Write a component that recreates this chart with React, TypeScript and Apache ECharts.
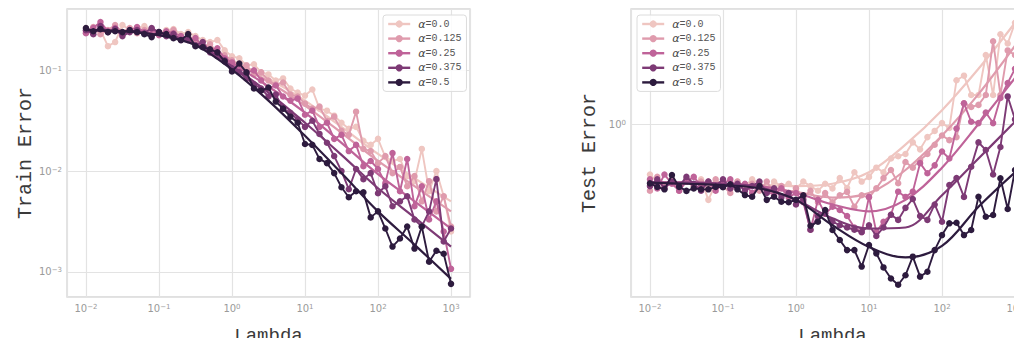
import React, { useEffect, useRef } from "react";
import * as echarts from "echarts";

const LAMBDA = [0.01, 0.0126, 0.0158, 0.02, 0.0251, 0.0316, 0.0398, 0.0501, 0.0631, 0.0794, 0.1, 0.126, 0.158, 0.2, 0.251, 0.316, 0.398, 0.501, 0.631, 0.794, 1, 1.26, 1.58, 2, 2.51, 3.16, 3.98, 5.01, 6.31, 7.94, 10, 12.6, 15.8, 20, 25.1, 31.6, 39.8, 50.1, 63.1, 79.4, 100, 126, 158, 200, 251, 316, 398, 501, 631, 794, 1000];
const FIT_LAMBDA = [0.01, 0.0316, 0.1, 0.316, 1, 3.16, 10, 31.6, 100, 316, 1000];
const ALPHA_LABELS = ["α=0.0", "α=0.125", "α=0.25", "α=0.375", "α=0.5"];
const COLORS = ["#efc6c1", "#df9bad", "#bf6399", "#7d3a75", "#2d1b3e"];

const TRAIN_A0 = [0.263, 0.240, 0.251, 0.174, 0.191, 0.282, 0.251, 0.263, 0.275, 0.245, 0.234, 0.251, 0.257, 0.229, 0.240, 0.219, 0.200, 0.191, 0.200, 0.158, 0.138, 0.132, 0.112, 0.115, 0.0955, 0.0912, 0.0794, 0.0832, 0.0661, 0.0603, 0.0562, 0.0646, 0.0417, 0.0398, 0.0355, 0.0302, 0.0263, 0.0275, 0.0200, 0.0182, 0.0209, 0.0138, 0.0126, 0.0132, 0.00891, 0.00794, 0.0166, 0.00631, 0.0100, 0.00562, 0.00251];
const TRAIN_A1 = [0.240, 0.269, 0.229, 0.251, 0.282, 0.240, 0.263, 0.234, 0.251, 0.219, 0.240, 0.224, 0.251, 0.209, 0.219, 0.200, 0.174, 0.182, 0.151, 0.141, 0.126, 0.110, 0.112, 0.0912, 0.0955, 0.0794, 0.0724, 0.0759, 0.0575, 0.0550, 0.0468, 0.0417, 0.0437, 0.0316, 0.0347, 0.0251, 0.0229, 0.0389, 0.0166, 0.0158, 0.0120, 0.0141, 0.00955, 0.0110, 0.00708, 0.00891, 0.00501, 0.00794, 0.00398, 0.00562, 0.00282];
const TRAIN_A2 = [0.234, 0.263, 0.302, 0.245, 0.263, 0.229, 0.251, 0.269, 0.240, 0.257, 0.224, 0.245, 0.234, 0.219, 0.200, 0.209, 0.174, 0.158, 0.166, 0.132, 0.120, 0.107, 0.0955, 0.100, 0.0794, 0.0661, 0.0708, 0.0550, 0.0501, 0.0525, 0.0363, 0.0398, 0.0275, 0.0302, 0.0209, 0.0229, 0.0158, 0.0182, 0.0112, 0.0126, 0.0105, 0.00759, 0.0151, 0.00631, 0.0132, 0.00447, 0.00708, 0.00331, 0.00501, 0.00251, 0.00107];
const TRAIN_A3 = [0.251, 0.229, 0.275, 0.240, 0.257, 0.219, 0.240, 0.251, 0.234, 0.263, 0.240, 0.219, 0.229, 0.200, 0.209, 0.178, 0.191, 0.151, 0.138, 0.126, 0.105, 0.0955, 0.0832, 0.0724, 0.0661, 0.0550, 0.0575, 0.0417, 0.0380, 0.0324, 0.0275, 0.0316, 0.0234, 0.0191, 0.0141, 0.0100, 0.00661, 0.0105, 0.00832, 0.00955, 0.00603, 0.00708, 0.00447, 0.00501, 0.00562, 0.00331, 0.00282, 0.00398, 0.00832, 0.00200, 0.00269];
const TRAIN_A4 = [0.263, 0.245, 0.257, 0.240, 0.245, 0.240, 0.251, 0.240, 0.229, 0.214, 0.240, 0.229, 0.209, 0.200, 0.229, 0.174, 0.170, 0.162, 0.151, 0.123, 0.0977, 0.117, 0.0955, 0.0661, 0.0631, 0.0676, 0.0490, 0.0417, 0.0347, 0.0302, 0.0186, 0.0182, 0.0132, 0.0120, 0.00955, 0.00692, 0.00550, 0.00631, 0.00617, 0.00347, 0.00398, 0.00269, 0.00178, 0.00214, 0.00282, 0.00170, 0.00282, 0.00126, 0.00162, 0.00151, 0.000759];

const TRAIN_FIT_A0 = [0.251, 0.245, 0.229, 0.191, 0.126, 0.0832, 0.0501, 0.0275, 0.0148, 0.00851, 0.00501];
const TRAIN_FIT_A1 = [0.251, 0.245, 0.229, 0.191, 0.123, 0.0776, 0.0447, 0.0240, 0.0126, 0.00708, 0.00398];
const TRAIN_FIT_A2 = [0.251, 0.245, 0.229, 0.186, 0.117, 0.0692, 0.0380, 0.0191, 0.00933, 0.00501, 0.00269];
const TRAIN_FIT_A3 = [0.251, 0.245, 0.224, 0.182, 0.110, 0.0603, 0.0302, 0.0145, 0.00676, 0.00347, 0.00178];
const TRAIN_FIT_A4 = [0.251, 0.245, 0.224, 0.178, 0.102, 0.0501, 0.0224, 0.00955, 0.00398, 0.00186, 0.000851];

const TEST_A0 = [0.603, 0.562, 0.537, 0.575, 0.525, 0.562, 0.537, 0.575, 0.468, 0.550, 0.562, 0.525, 0.562, 0.537, 0.575, 0.550, 0.513, 0.562, 0.537, 0.550, 0.525, 0.562, 0.537, 0.513, 0.550, 0.525, 0.582, 0.527, 0.617, 0.562, 0.589, 0.646, 0.617, 0.708, 0.724, 0.741, 0.832, 0.776, 0.877, 0.933, 1.009, 0.962, 1.549, 1.622, 1.337, 1.337, 1.995, 1.337, 2.455, 2.239, 2.754];
const TEST_A1 = [0.513, 0.589, 0.537, 0.562, 0.513, 0.575, 0.537, 0.562, 0.525, 0.575, 0.537, 0.501, 0.562, 0.525, 0.550, 0.513, 0.562, 0.501, 0.537, 0.490, 0.525, 0.479, 0.513, 0.457, 0.501, 0.457, 0.490, 0.507, 0.437, 0.490, 0.479, 0.525, 0.582, 0.631, 0.553, 0.684, 0.646, 0.697, 0.741, 0.813, 0.891, 0.851, 0.877, 1.230, 1.186, 1.211, 1.337, 2.291, 1.337, 2.089, 1.995];
const TEST_A2 = [0.575, 0.525, 0.603, 0.550, 0.513, 0.562, 0.589, 0.537, 0.562, 0.513, 0.550, 0.575, 0.525, 0.550, 0.501, 0.537, 0.513, 0.490, 0.525, 0.479, 0.501, 0.457, 0.347, 0.468, 0.407, 0.437, 0.423, 0.398, 0.355, 0.339, 0.482, 0.339, 0.376, 0.403, 0.508, 0.482, 0.508, 0.676, 0.611, 0.661, 0.759, 0.708, 0.955, 1.230, 1.023, 1.009, 1.122, 1.009, 1.297, 1.507, 1.738];
const TEST_A3 = [0.537, 0.575, 0.525, 0.562, 0.537, 0.589, 0.550, 0.513, 0.562, 0.537, 0.575, 0.525, 0.550, 0.513, 0.537, 0.562, 0.501, 0.525, 0.479, 0.501, 0.447, 0.468, 0.347, 0.398, 0.410, 0.376, 0.363, 0.355, 0.347, 0.339, 0.363, 0.326, 0.355, 0.403, 0.383, 0.432, 0.472, 0.398, 0.383, 0.447, 0.376, 0.543, 0.582, 0.482, 0.652, 0.832, 0.771, 0.603, 0.794, 1.318, 1.047];
const TEST_A4 = [0.552, 0.533, 0.520, 0.600, 0.533, 0.512, 0.525, 0.520, 0.520, 0.533, 0.531, 0.547, 0.520, 0.491, 0.483, 0.537, 0.468, 0.483, 0.459, 0.457, 0.468, 0.490, 0.361, 0.376, 0.423, 0.346, 0.313, 0.283, 0.283, 0.240, 0.298, 0.274, 0.238, 0.213, 0.200, 0.220, 0.265, 0.217, 0.228, 0.283, 0.329, 0.370, 0.372, 0.329, 0.346, 0.483, 0.395, 0.402, 0.581, 0.427, 0.631];

const TEST_FIT_A0 = [0.556, 0.556, 0.550, 0.543, 0.537, 0.550, 0.617, 0.813, 1.148, 1.738, 2.754];
const TEST_FIT_A1 = [0.556, 0.556, 0.550, 0.537, 0.507, 0.479, 0.501, 0.631, 0.891, 1.349, 2.188];
const TEST_FIT_A2 = [0.556, 0.556, 0.550, 0.537, 0.501, 0.447, 0.417, 0.468, 0.646, 1.0, 1.585];
const TEST_FIT_A3 = [0.556, 0.556, 0.550, 0.531, 0.468, 0.389, 0.351, 0.355, 0.490, 0.708, 1.023];
const TEST_FIT_A4 = [0.556, 0.550, 0.543, 0.525, 0.468, 0.363, 0.292, 0.263, 0.295, 0.437, 0.617];

const TRAIN = [TRAIN_A0, TRAIN_A1, TRAIN_A2, TRAIN_A3, TRAIN_A4];
const TRAIN_FIT = [TRAIN_FIT_A0, TRAIN_FIT_A1, TRAIN_FIT_A2, TRAIN_FIT_A3, TRAIN_FIT_A4];
const TEST = [TEST_A0, TEST_A1, TEST_A2, TEST_A3, TEST_A4];
const TEST_FIT = [TEST_FIT_A0, TEST_FIT_A1, TEST_FIT_A2, TEST_FIT_A3, TEST_FIT_A4];

const pairs = (xs: number[], ys: number[]) => xs.map((x, i) => [x, ys[i]]);

const tickFmt = (v: number) => {
  const l = Math.log10(v);
  const e = Math.round(l);
  if (Math.abs(l - e) > 1e-3) return "";
  return "10{s|" + (e < 0 ? "\u2212" + -e : String(e)) + "}";
};

const GRID_C = "#e3e3e3";
const LABEL_STYLE = {
  formatter: tickFmt,
  color: "#9a9a9a",
  fontFamily: "DejaVu Sans",
  fontSize: 10,
  rich: { s: { fontSize: 7, verticalAlign: "top", color: "#9a9a9a", fontFamily: "DejaVu Sans" } },
};

function xAxisCfg(idx: number) {
  return {
    type: "log",
    logBase: 10,
    gridIndex: idx,
    min: 0.0055,
    max: 1820,
    name: "Lambda",
    nameLocation: "middle",
    nameGap: 29,
    nameMoveOverlap: false,
    nameTextStyle: { fontFamily: "Liberation Mono", fontSize: 19, lineHeight: 19, color: "#3a3a3a" },
    axisLine: { show: false },
    axisTick: { show: false },
    splitLine: { show: true, lineStyle: { color: GRID_C, width: 1.2 } },
    axisLabel: { ...LABEL_STYLE, margin: 6 },
  };
}

function yAxisCfg(idx: number, name: string, min: number, max: number) {
  return {
    type: "log",
    logBase: 10,
    gridIndex: idx,
    min,
    max,
    name,
    nameLocation: "middle",
    nameGap: 32,
    nameMoveOverlap: false,
    nameTextStyle: { fontFamily: "Liberation Mono", fontSize: 20, lineHeight: 20, color: "#3a3a3a" },
    axisLine: { show: false },
    axisTick: { show: false },
    splitLine: { show: true, lineStyle: { color: GRID_C, width: 1.2 } },
    axisLabel: { ...LABEL_STYLE, margin: 5 },
  };
}

function legendCfg(left: number) {
  return {
    data: ALPHA_LABELS,
    orient: "vertical",
    left,
    top: 15,
    padding: [3, 5, 3, 4],
    itemWidth: 22,
    itemHeight: 9,
    itemGap: 2.6,
    backgroundColor: "rgba(255,255,255,0.85)",
    borderColor: "#dcdcdc",
    borderWidth: 1,
    borderRadius: 3,
    lineStyle: { width: 2.4 },
    selectedMode: false,
    formatter: (name: string) => "{a|α}{b|" + name.slice(1) + "}",
    textStyle: {
      color: "#555",
      fontSize: 10,
      lineHeight: 12,
      rich: {
        a: { fontFamily: "DejaVu Sans", fontStyle: "italic", fontSize: 11, color: "#444", padding: [0, 0, 0, 3] },
        b: { fontFamily: "Liberation Mono", fontSize: 10, color: "#555" },
      },
    },
  };
}

export default function App() {
  const ref = useRef<HTMLDivElement>(null);
  useEffect(() => {
    document.body.style.margin = "0";
    document.body.style.overflow = "hidden";
    if (!ref.current) return;
    const chart = echarts.init(ref.current, undefined, { renderer: "svg" });
    const series: any[] = [];
    [0, 1].forEach((k) => {
      const data = k === 0 ? TRAIN : TEST;
      const fits = k === 0 ? TRAIN_FIT : TEST_FIT;
      for (let a = 0; a < 5; a++) {
        series.push({
          type: "line",
          name: ALPHA_LABELS[a],
          xAxisIndex: k,
          yAxisIndex: k,
          data: pairs(LAMBDA, data[a]),
          symbol: "circle",
          symbolSize: 6.5,
          showSymbol: true,
          lineStyle: { width: 1.9, color: COLORS[a] },
          itemStyle: { color: COLORS[a] },
          emphasis: { disabled: true },
          z: 2 + a,
        });
        series.push({
          type: "line",
          name: "fit " + ALPHA_LABELS[a],
          xAxisIndex: k,
          yAxisIndex: k,
          data: pairs(FIT_LAMBDA, fits[a]),
          symbol: "none",
          smooth: 0.35,
          lineStyle: { width: 2.2, color: COLORS[a] },
          itemStyle: { color: COLORS[a] },
          emphasis: { disabled: true },
          silent: true,
          z: 2 + a,
        });
      }
    });
    chart.setOption({
      animation: false,
      backgroundColor: "#ffffff",
      grid: [
        { left: 67, top: 9, width: 403, height: 288, show: true, borderColor: "#d6d6d6", borderWidth: 1.3, containLabel: false, outerBoundsMode: "none" },
        { left: 631, top: 9, width: 403, height: 288, show: true, borderColor: "#d6d6d6", borderWidth: 1.3, containLabel: false, outerBoundsMode: "none" },
      ],
      xAxis: [xAxisCfg(0), xAxisCfg(1)],
      yAxis: [yAxisCfg(0, "Train Error", 0.000562, 0.407), yAxisCfg(1, "Test Error", 0.177, 3.162)],
      legend: [legendCfg(383), legendCfg(637)],
      series,
    });
    return () => chart.dispose();
  }, []);
  return (
    <div style={{ position: "relative", width: 1014, height: 338, overflow: "hidden", background: "#fff" }}>
      <div ref={ref} style={{ position: "absolute", left: 0, top: 0, width: 1040, height: 338 }} />
    </div>
  );
}
